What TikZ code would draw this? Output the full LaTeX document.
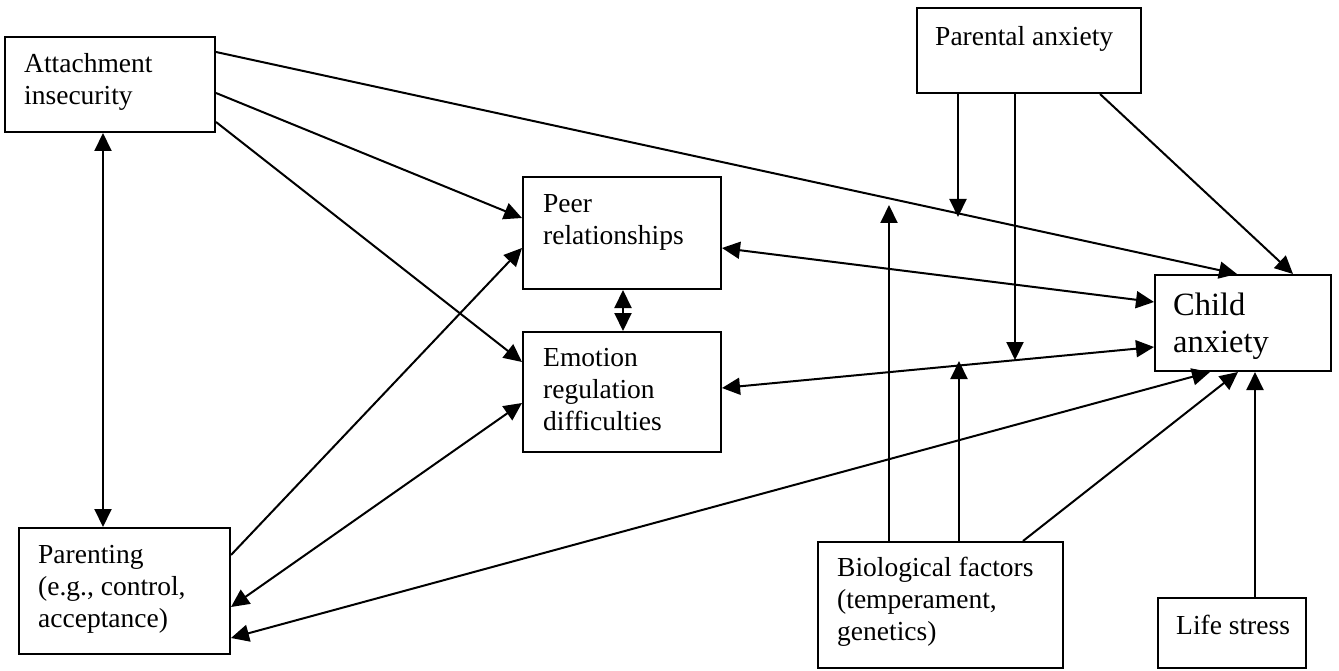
\documentclass[tikz,border=0pt]{standalone}
\usepackage{fontspec}
\setmainfont{Liberation Serif}
\usetikzlibrary{arrows.meta,calc}
\tikzset{
  box/.style={draw, line width=2pt, rectangle, inner sep=0pt},
  txt/.style={anchor=north west, inner sep=0pt, align=left,
    font=\fontsize{27.5}{32}\selectfont},
  bigtxt/.style={anchor=north west, inner sep=0pt, align=left,
    font=\fontsize{32.5}{37}\selectfont},
  tipshape/.tip={Triangle[length=18pt 0 0,width=17pt 0 0]},
  conn/.style={line width=2pt, -tipshape},
  dconn/.style={line width=2pt, tipshape-tipshape}
}
\begin{document}
\begin{tikzpicture}[x=1pt,y=-1pt]
\useasboundingbox (0,0) rectangle (1339,671);
% boxes
\node[box, minimum width=210pt, minimum height=95pt] (att) at (110,84.5) {};
\node[box, minimum width=224pt, minimum height=85pt] (par) at (1029,50.5) {};
\node[box, minimum width=198pt, minimum height=112pt] (peer) at (622,233) {};
\node[box, minimum width=198pt, minimum height=120pt] (emo) at (622,392) {};
\node[box, minimum width=176pt, minimum height=96pt] (child) at (1243,323) {};
\node[box, minimum width=211pt, minimum height=126pt] (parenting) at (124.5,591) {};
\node[box, minimum width=245pt, minimum height=126pt] (bio) at (940.5,605) {};
\node[box, minimum width=148pt, minimum height=70pt] (life) at (1232,633) {};
% texts
\node[txt] (att-t) at (24,49.6) {\strut Attachment\\insecurity};
\node[txt] (par-t) at (935,22.6) {\strut Parental anxiety};
\node[txt] (peer-t) at (543,189.6) {\strut Peer\\relationships};
\node[txt] (emo-t) at (543,343.6) {\strut Emotion\\regulation\\difficulties};
\node[bigtxt] (child-t) at (1173,289.1) {\strut Child\\anxiety};
\node[txt] (parenting-t) at (38,540.6) {\strut Parenting\\(e.g., control,\\acceptance)};
\node[txt] (bio-t) at (837,553.6) {\strut Biological factors\\(temperament,\\genetics)};
\node[txt] (life-t) at (1176,611.6) {\strut Life stress};
% moderator targets
\coordinate (m1) at (958,217);
\coordinate (m2) at (1015,360);
\coordinate (m3) at (889,205);
\coordinate (m4) at (959,361);
% connectors
\draw[dconn] (att.south -| 103,0) -- (parenting.north -| 103,0);
\draw[conn] (att.east |- 0,93) -- (peer.west |- 0,218);
\draw[conn] (att.east |- 0,122) -- (emo.west |- 0,362);
\draw[conn] (att.east |- 0,52) -- (child.north -| 1237,0);
\draw[conn] (parenting.east |- 0,555) -- (peer.west |- 0,248);
\draw[dconn] (emo.west |- 0,403) -- (parenting.east |- 0,607);
\draw[dconn] (child.south -| 1210,0) -- (parenting.east |- 0,638);
\draw[dconn] (peer.south -| 623,0) -- (emo.north -| 623,0);
\draw[dconn] (peer.east |- 0,248) -- (child.west |- 0,302);
\draw[dconn] (emo.east |- 0,388) -- (child.west |- 0,347);
\draw[conn] (par.south -| 1100,0) -- (child.north -| 1293,0);
\draw[conn] (par.south -| 958,0) -- (m1);
\draw[conn] (par.south -| 1015,0) -- (m2);
\draw[conn] (bio.north -| 889,0) -- (m3);
\draw[conn] (bio.north -| 959,0) -- (m4);
\draw[conn] (bio.north -| 1023,0) -- (child.south -| 1238,0);
\draw[conn] (life.north -| 1255,0) -- (child.south -| 1255,0);
\end{tikzpicture}
\end{document}
